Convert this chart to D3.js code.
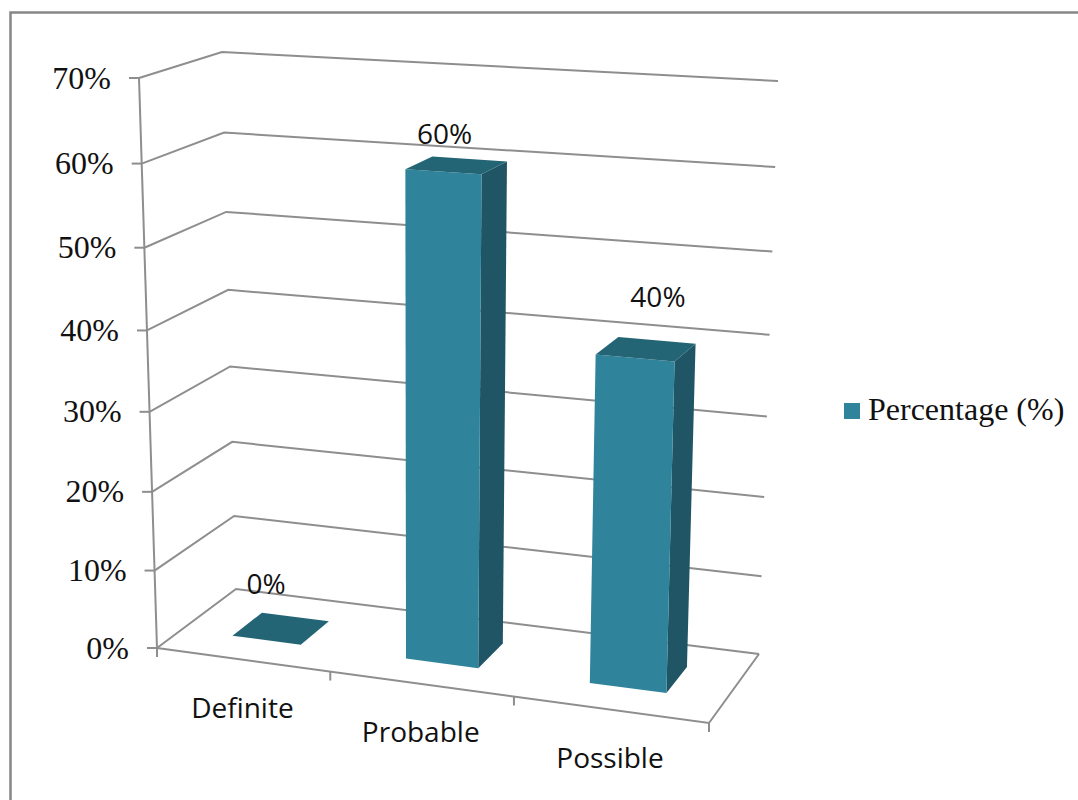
<!DOCTYPE html>
<html>
<head>
<meta charset="utf-8">
<script src="https://cdn.jsdelivr.net/npm/d3@7"></script>
<style>
  html, body { margin: 0; padding: 0; background: #fff; }
  svg { display: block; }
</style>
</head>
<body>
<svg id="chart" width="1078" height="800"></svg>
<script>
// Chart data
const categories = ["Definite", "Probable", "Possible"];
const percentages = [0, 60, 40];
const valueTicks = [0, 10, 20, 30, 40, 50, 60, 70];
const seriesName = "Percentage (%)";

// Camera of the 3D box: pixel corners of floor and ceiling, ordered
// front-left, front-right, back-right, back-left.
const floorCorners = [[157, 648], [709, 723], [759, 654], [236, 589]];
const ceilingCorners = [[139, 78], [726, 111], [778, 81], [222, 52]];
const verticalForeshortening = 1.06;

const colors = { front: "#2f849c", side: "#1f5564", top: "#246575", grid: "#8e8e8e", frame: "#868686" };
const serif = "'Liberation Serif', serif";
const sans = "'Open Sans', sans-serif";

function homography(q) {
  const [[x0, y0], [x1, y1], [x2, y2], [x3, y3]] = q;
  const dx1 = x1 - x2, dx2 = x3 - x2, sx = x0 - x1 + x2 - x3;
  const dy1 = y1 - y2, dy2 = y3 - y2, sy = y0 - y1 + y2 - y3;
  const den = dx1 * dy2 - dx2 * dy1;
  const g = (sx * dy2 - dx2 * sy) / den;
  const h = (dx1 * sy - sx * dy1) / den;
  const a = x1 - x0 + g * x1, b = x3 - x0 + h * x3;
  const d = y1 - y0 + g * y1, e = y3 - y0 + h * y3;
  return (u, w) => {
    const z = g * u + h * w + 1;
    return [(a * u + b * w + x0) / z, (d * u + e * w + y0) / z];
  };
}

const floorAt = homography(floorCorners);
const ceilingAt = homography(ceilingCorners);

// Scales: category along the front edge, depth of a bar, value up the wall
const xBand = d3.scaleBand().domain(categories).range([0, 1]).paddingInner(0.6).paddingOuter(0.3);
const xStep = d3.scaleLinear().domain([0, categories.length]).range([0, 1]);
const depthBand = d3.scaleBand().domain(["bar"]).range([0, 1]).paddingInner(0).paddingOuter(0.8);
const heightScale = d3.scaleLinear().domain([0, 70]).range([0, 1]);

function project(u, value, w) {
  const t = heightScale(value);
  const s = t / (t + verticalForeshortening * (1 - t));
  const f = floorAt(u, w), c = ceilingAt(u, w);
  return [f[0] + (c[0] - f[0]) * s, f[1] + (c[1] - f[1]) * s];
}

const svg = d3.select("#chart");
const line = d3.line();

// Outer chart frame, open to the right and bottom edges of the page
svg.append("path")
  .attr("d", "M10.5,800V12.5H1078")
  .attr("fill", "none").attr("stroke", colors.frame).attr("stroke-width", 2.5);

// Gridlines across the side wall and the back wall, floor outline included
const grid = svg.append("g").attr("fill", "none").attr("stroke", colors.grid).attr("stroke-width", 2);
grid.selectAll("path.wall").data(valueTicks).join("path").attr("class", "wall")
  .attr("d", v => line([project(0, v, 0), project(0, v, 1), project(1, v, 1)]));
grid.append("path").attr("d", line([project(1, 0, 1), project(1, 0, 0), project(0, 0, 0)]));

// Value axis with ticks and labels
grid.append("path").attr("d", line([project(0, 70, 0), project(0, 0, 0)]));
grid.selectAll("path.vtick").data(valueTicks).join("path").attr("class", "vtick")
  .attr("d", v => {
    const [x, y] = project(0, v, 0);
    return line([[x - 10, y], [x, y]]);
  });
svg.selectAll("text.vlabel").data(valueTicks).join("text").attr("class", "vlabel")
  .attr("x", v => project(0, v, 0)[0] - 28)
  .attr("y", v => project(0, v, 0)[1])
  .attr("dy", "0.33em")
  .attr("text-anchor", "end")
  .attr("font-family", serif).attr("font-size", 32).attr("fill", "#111")
  .text(v => v + "%");

// Category axis ticks and labels
grid.selectAll("path.ctick").data(d3.range(categories.length + 1)).join("path").attr("class", "ctick")
  .attr("d", i => {
    const [x, y] = project(xStep(i), 0, 0);
    return line([[x, y], [x, y + 9]]);
  });
svg.selectAll("text.clabel").data(categories).join("text").attr("class", "clabel")
  .attr("x", (c, i) => project(xStep(i + 0.5), 0, 0)[0])
  .attr("y", (c, i) => project(xStep(i + 0.5), 0, 0)[1] + 58)
  .attr("text-anchor", "middle")
  .attr("font-family", sans).attr("font-size", 28).attr("fill", "#111")
  .text(c => c);

// Bars: side, top and front faces
const w0 = depthBand("bar"), w1 = w0 + depthBand.bandwidth();
const bars = svg.selectAll("g.bar").data(categories.map((c, i) => ({ c, v: percentages[i] })))
  .join("g").attr("class", "bar");
const face = fn => d => {
  const u0 = xBand(d.c), u1 = u0 + xBand.bandwidth();
  return line(fn(u0, u1, d.v)) + "Z";
};
bars.append("path").attr("fill", colors.side)
  .attr("d", face((u0, u1, v) => [project(u1, 0, w0), project(u1, 0, w1), project(u1, v, w1), project(u1, v, w0)]));
bars.append("path").attr("fill", colors.front)
  .attr("d", face((u0, u1, v) => [project(u0, 0, w0), project(u1, 0, w0), project(u1, v, w0), project(u0, v, w0)]));
bars.append("path").attr("fill", colors.top)
  .attr("d", face((u0, u1, v) => [project(u0, v, w0), project(u1, v, w0), project(u1, v, w1), project(u0, v, w1)]));

// Value labels sit above each bar's top face
const labelOffsets = [[-15, -34], [-12, -21], [12, -42]];
svg.selectAll("text.dlabel").data(percentages).join("text").attr("class", "dlabel")
  .attr("x", (v, i) => project(xBand(categories[i]) + xBand.bandwidth() / 2, v, 0.5)[0] + labelOffsets[i][0])
  .attr("y", (v, i) => project(xBand(categories[i]) + xBand.bandwidth() / 2, v, 0.5)[1] + labelOffsets[i][1])
  .attr("text-anchor", "middle")
  .attr("font-family", sans).attr("font-size", 28).attr("fill", "#111")
  .text(v => v + "%");

// Legend
const legend = svg.append("g").attr("transform", "translate(844,403)");
legend.append("rect").attr("width", 16).attr("height", 16).attr("fill", colors.front);
legend.append("text").attr("x", 24).attr("y", 17)
  .attr("font-family", serif).attr("font-size", 32).attr("fill", "#111")
  .text(seriesName);
</script>
</body>
</html>
